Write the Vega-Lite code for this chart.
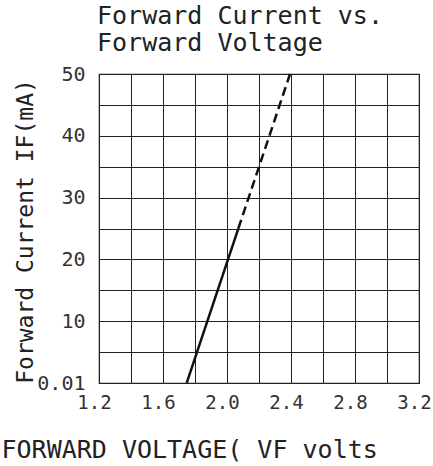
{
  "$schema": "https://vega.github.io/schema/vega-lite/v6.json",
  "autosize": "none",
  "width": 320,
  "height": 309,
  "padding": {"left": 99, "top": 74, "right": 14, "bottom": 83},
  "background": "white",
  "config": {
    "view": {"stroke": "#222", "strokeWidth": 1.2},
    "font": "DejaVu Sans Mono"
  },
  "title": {
    "text": ["Forward Current vs.", "Forward Voltage"],
    "anchor": "start",
    "frame": "group",
    "offset": 8,
    "dx": -2,
    "fontSize": 25,
    "fontWeight": "normal",
    "lineHeight": 27,
    "color": "#222",
    "font": "DejaVu Sans Mono"
  },
  "data": {
    "values": [
      {"v": 1.748, "i": 0, "seg": "measured"},
      {"v": 2.071, "i": 25, "seg": "measured"},
      {"v": 2.071, "i": 25, "seg": "extrapolated"},
      {"v": 2.394, "i": 50, "seg": "extrapolated"}
    ]
  },
  "mark": {"type": "line", "color": "#111", "strokeWidth": 2.5, "clip": false},
  "encoding": {
    "x": {
      "field": "v",
      "type": "quantitative",
      "scale": {"domain": [1.2, 3.2], "nice": false, "zero": false},
      "axis": {
        "values": [1.2, 1.4, 1.6, 1.8, 2.0, 2.2, 2.4, 2.6, 2.8, 3.0, 3.2],
        "labelExpr": "round(datum.value*10) % 4 == 0 ? format(datum.value, '.1f') : ''",
        "labelOverlap": false,
        "labelFontSize": 19,
        "labelColor": "#333",
        "labelPadding": 10,
        "labelOffset": -5,
        "labelFlush": false,
        "ticks": false,
        "domain": false,
        "grid": true,
        "gridColor": "#222",
        "gridOpacity": 1,
        "gridWidth": 1,
        "title": "FORWARD VOLTAGE( VF volts",
        "titleFontSize": 25,
        "titleFontWeight": "normal",
        "titleColor": "#222",
        "titleAlign": "left",
        "titleAnchor": "start",
        "titleBaseline": "alphabetic",
        "titleX": -98,
        "titleY": 74
      }
    },
    "y": {
      "field": "i",
      "type": "quantitative",
      "scale": {"domain": [0, 50], "nice": false},
      "axis": {
        "values": [0, 5, 10, 15, 20, 25, 30, 35, 40, 45, 50],
        "labelExpr": "datum.value == 0 ? '0.01' : (datum.value % 10 == 0 ? '' + datum.value : '')",
        "labelOverlap": false,
        "labelFontSize": 20,
        "labelColor": "#333",
        "labelPadding": 14,
        "labelFlush": false,
        "ticks": false,
        "domain": false,
        "grid": true,
        "gridColor": "#222",
        "gridOpacity": 1,
        "gridWidth": 1,
        "title": "Forward Current IF(mA)",
        "titleFontSize": 23,
        "titleFontWeight": "normal",
        "titleColor": "#222",
        "titleAngle": -90,
        "titleAlign": "center",
        "titleBaseline": "middle",
        "titleX": -74,
        "titleY": 157
      }
    },
    "detail": {"field": "seg"},
    "strokeDash": {
      "field": "seg",
      "type": "nominal",
      "scale": {"domain": ["measured", "extrapolated"], "range": [[1, 0], [9, 5]]},
      "legend": null
    }
  }
}
